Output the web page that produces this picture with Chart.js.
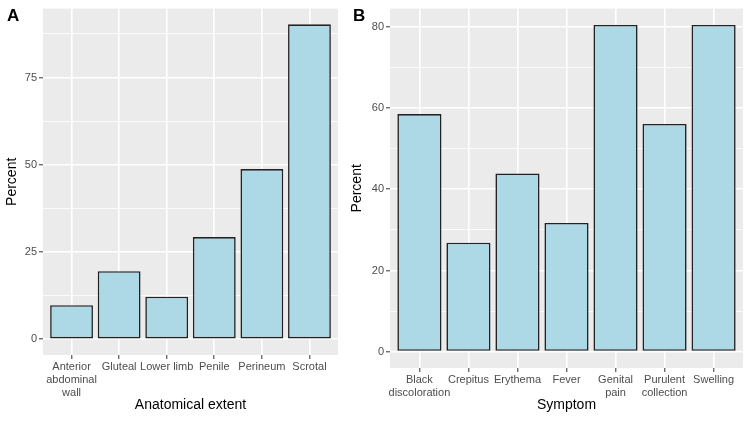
<!DOCTYPE html>
<html>
<head>
<meta charset="utf-8">
<script src="https://cdn.jsdelivr.net/npm/chart.js@4"></script>
<style>
  body { margin: 0; background: #fff; width: 750px; height: 422px; position: relative; overflow: hidden;
         font-family: "Liberation Sans", Arial, sans-serif; }
  #wrapA { position: absolute; left: 0; top: 0; }
  #wrapB { position: absolute; left: 345px; top: 0; }
  .tag { position: absolute; font-weight: bold; font-size: 17px; line-height: 1; color: #000; }
</style>
</head>
<body>
<div id="wrapA"><canvas id="chartA" width="345" height="422"></canvas></div>
<div id="wrapB"><canvas id="chartB" width="405" height="422"></canvas></div>
<div class="tag" style="left:7px;top:7px">A</div>
<div class="tag" style="left:353px;top:7px">B</div>
<script>
// panel A - anatomical extent
const categoriesA = [["Anterior", "abdominal", "wall"], "Gluteal", "Lower limb", "Penile", "Perineum", "Scrotal"];
const percentA = [9.76, 19.51, 12.20, 29.27, 48.78, 90.24];
const yTicksA = [0, 25, 50, 75];

// panel B - symptom
const categoriesB = [["Black", "discoloration"], "Crepitus", "Erythema", "Fever", ["Genital", "pain"], ["Purulent", "collection"], "Swelling"];
const percentB = [58.54, 26.83, 43.90, 31.71, 80.49, 56.10, 80.49];
const yTicksB = [0, 20, 40, 60, 80];

Chart.defaults.font.family = '"Liberation Sans", Arial, sans-serif';

// grey ggplot panel
const panelBg = {
    id: 'panelBg',
    beforeDraw(chart) {
        const a = chart.chartArea;
        const ctx = chart.ctx;
        ctx.save();
        ctx.fillStyle = '#EBEBEB';
        ctx.fillRect(a.left, a.top, a.right - a.left, a.bottom - a.top);
        ctx.restore();
    }
};

function makeChart(id, cats, vals, yTicks, xTitle, yWidth, xHeight) {
    const top = Math.max(...vals);
    const step = yTicks[1] - yTicks[0];
    const minors = yTicks.map(v => v + step / 2).filter(v => v < top * 1.05);
    const isMajor = v => yTicks.includes(v);

    return new Chart(document.getElementById(id), {
        type: 'bar',
        data: {
            datasets: [{
                data: vals.map((v, i) => ({ x: i + 1, y: v })),
                backgroundColor: '#ADD8E6',
                borderColor: '#222222',
                borderWidth: 1.6,
                borderSkipped: false,
                categoryPercentage: 0.9,
                barPercentage: 1.0
            }]
        },
        options: {
            responsive: false,
            animation: false,
            layout: { padding: { top: 7, right: 7, left: 0, bottom: 0 } },
            plugins: { legend: { display: false }, tooltip: { enabled: false } },
            scales: {
                x: {
                    type: 'linear',
                    offset: false,
                    min: 0.4,
                    max: cats.length + 0.6,
                    afterBuildTicks: s => { s.ticks = cats.map((c, i) => ({ value: i + 1 })); },
                    afterFit: s => { s.height = xHeight; },
                    border: { display: false },
                    grid: { offset: false, color: '#FFFFFF', lineWidth: 1.6, tickColor: '#333333', tickWidth: 1, tickLength: 4 },
                    ticks: {
                        callback: v => cats[v - 1],
                        autoSkip: false, maxRotation: 0, minRotation: 0,
                        color: '#4D4D4D', padding: 2,
                        font: { size: 11, lineHeight: 1.15 }
                    },
                    title: { display: true, text: xTitle, color: '#000', font: { size: 14 }, padding: { top: 0, bottom: 8 } }
                },
                y: {
                    min: -0.05 * top,
                    max: 1.05 * top,
                    afterBuildTicks: s => { s.ticks = yTicks.concat(minors).map(v => ({ value: v })); },
                    afterFit: s => { s.width = yWidth; },
                    border: { display: false },
                    grid: {
                        color: '#FFFFFF',
                        lineWidth: c => (c.tick && isMajor(c.tick.value)) ? 1.6 : 0.8,
                        tickColor: c => (c.tick && isMajor(c.tick.value)) ? '#333333' : 'rgba(0,0,0,0)',
                        tickWidth: 1,
                        tickLength: 4
                    },
                    ticks: {
                        callback: v => isMajor(v) ? v : '',
                        color: '#4D4D4D', padding: 2,
                        font: { size: 11 }
                    },
                    title: { display: true, text: 'Percent', color: '#000', font: { size: 14 }, padding: { top: 4, bottom: 0 } }
                }
            }
        },
        plugins: [panelBg]
    });
}

makeChart('chartA', categoriesA, percentA, yTicksA, 'Anatomical extent', 43, 67);
makeChart('chartB', categoriesB, percentB, yTicksB, 'Symptom', 45, 54);
</script>
</body>
</html>
